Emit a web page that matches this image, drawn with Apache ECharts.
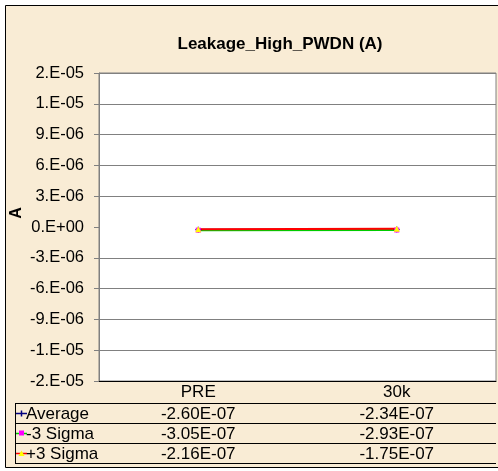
<!DOCTYPE html>
<html>
<head>
<meta charset="utf-8">
<script src="https://cdn.jsdelivr.net/npm/echarts@6/dist/echarts.min.js"></script>
<style>
  html, body { margin: 0; padding: 0; background: #fff; }
  #chart { width: 498px; height: 471px; }
</style>
</head>
<body>
<div id="chart"></div>
<script>
var categories = ["PRE", "30k"];
var seriesNames = ["Average", "-3 Sigma", "+3 Sigma"];
var average = [-2.60e-7, -2.34e-7];
var minus3Sigma = [-3.05e-7, -2.93e-7];
var plus3Sigma = [-2.16e-7, -1.75e-7];
var yTickLabels = ["-2.E-05", "-1.E-05", "-9.E-06", "-6.E-06", "-3.E-06", "0.E+00",
                   "3.E-06", "6.E-06", "9.E-06", "1.E-05", "2.E-05"];

var yMin = -1.5e-5, yMax = 1.5e-5, yStep = 3e-6;
var font = "Liberation Sans, Arial, sans-serif";

// grid box (pixels)
var gLeft = 99, gTop = 73, gWidth = 397, gHeight = 308;
var rowH = 20, headH = 22;

function sci(v) {
  // Excel style 0.00E+00
  var s = v.toExponential(2).toUpperCase();
  return s.replace(/E([+-])(\d)$/, "E$10$2");
}

var chartDom = document.getElementById("chart");
var myChart = echarts.init(chartDom);

var lineColors = ["#000080", "#00cc00", "#ff0000"];
var markColors = ["#000080", "#ff00ff", "#ffff00"];
var plusPath = "path://M0,4L8,4M4,0L4,8";

var rows = [average, minus3Sigma, plus3Sigma];
var graphics = [];

// chart area background + border
graphics.push({
  type: "rect", z: -100, silent: true,
  shape: { x: 5.5, y: 5.5, width: 500, height: 462 },
  style: { fill: "#f9ecd5", stroke: "#000", lineWidth: 1 }
});

// y axis title
graphics.push({
  type: "text", rotation: Math.PI / 2, x: 17, y: 213,
  style: { text: "A", font: "bold 16px " + font, fill: "#000",
           textAlign: "center", textVerticalAlign: "middle" }
});

// data table
var tTop = gTop + gHeight + headH;
var tLeft = 15, tRight = gLeft + gWidth;
for (var i = 0; i <= rows.length; i++) {
  graphics.push({
    type: "line", silent: true,
    shape: { x1: tLeft, y1: tTop + i * rowH + 0.5, x2: tRight, y2: tTop + i * rowH + 0.5 },
    style: { stroke: "#000", lineWidth: 1 }
  });
}
graphics.push({
  type: "line", silent: true,
  shape: { x1: tLeft + 0.5, y1: tTop, x2: tLeft + 0.5, y2: tTop + rows.length * rowH },
  style: { stroke: "#000", lineWidth: 1 }
});

var colW = gWidth / categories.length;
rows.forEach(function (vals, r) {
  var cy = tTop + r * rowH + rowH / 2 + 0.5;
  // legend key
  graphics.push({
    type: "line", silent: true,
    shape: { x1: tLeft + 1, y1: cy, x2: tLeft + 12, y2: cy },
    style: { stroke: lineColors[r], lineWidth: 1.5 }
  });
  if (r === 0) {
    graphics.push({
      type: "line", silent: true,
      shape: { x1: tLeft + 6.5, y1: cy - 3, x2: tLeft + 6.5, y2: cy + 3 },
      style: { stroke: markColors[r], lineWidth: 1.5 }
    });
  } else if (r === 1) {
    graphics.push({
      type: "rect", silent: true,
      shape: { x: tLeft + 4, y: cy - 3, width: 5, height: 5 },
      style: { fill: markColors[r] }
    });
  } else {
    graphics.push({
      type: "polygon", silent: true,
      shape: { points: [[tLeft + 6.5, cy - 3], [tLeft + 3.5, cy + 2.5], [tLeft + 9.5, cy + 2.5]] },
      style: { fill: markColors[r] }
    });
  }
  graphics.push({
    type: "text", x: tLeft + 11, y: cy + 0.5,
    style: { text: seriesNames[r], font: "17px " + font, fill: "#000",
             textVerticalAlign: "middle" }
  });
  vals.forEach(function (v, c) {
    graphics.push({
      type: "text", x: gLeft + colW * (c + 0.5), y: cy + 0.5,
      style: { text: sci(v), font: "17px " + font, fill: "#000",
               textAlign: "center", textVerticalAlign: "middle" }
    });
  });
});

var gridColors = yTickLabels.map(function (t, i) { return i === 5 ? "rgba(0,0,0,0)" : "#808080"; });

var option = {
  animation: false,
  title: {
    text: "Leakage_High_PWDN (A)",
    left: 275, top: 31, textAlign: "center",
    textStyle: { fontFamily: font, fontSize: 17, fontWeight: "bold", color: "#000" }
  },
  grid: {
    left: gLeft, top: gTop, width: gWidth, height: gHeight,
    show: true, backgroundColor: "#fff", borderColor: "#808080", borderWidth: 1
  },
  xAxis: {
    type: "category",
    data: categories,
    boundaryGap: true,
    axisLine: { onZero: false, lineStyle: { color: "#000", width: 1 } },
    axisTick: { length: headH + rows.length * rowH, lineStyle: { color: "#000" } },
    axisLabel: { margin: 3, fontFamily: font, fontSize: 17, color: "#000" }
  },
  yAxis: {
    type: "value",
    min: yMin, max: yMax, interval: yStep,
    axisLine: { show: true, lineStyle: { color: "#808080" } },
    axisTick: { show: true, length: 5, lineStyle: { color: "#808080" } },
    axisLabel: {
      margin: 15, fontFamily: font, fontSize: 16.5, color: "#000",
      formatter: function (v) {
        return yTickLabels[Math.round((v - yMin) / yStep)];
      }
    },
    splitLine: { show: true, lineStyle: { color: gridColors, width: 1 } }
  },
  series: [
    {
      name: seriesNames[0], type: "line", data: average,
      symbol: plusPath, symbolSize: 6,
      lineStyle: { color: lineColors[0], width: 2 },
      itemStyle: { color: markColors[0], borderColor: markColors[0] }
    },
    {
      name: seriesNames[1], type: "line", data: minus3Sigma,
      symbol: "rect", symbolSize: 5,
      lineStyle: { color: lineColors[1], width: 2 },
      itemStyle: { color: markColors[1], borderWidth: 0 }
    },
    {
      name: seriesNames[2], type: "line", data: plus3Sigma,
      symbol: "triangle", symbolSize: 6,
      lineStyle: { color: lineColors[2], width: 2 },
      itemStyle: { color: markColors[2], borderWidth: 0 }
    }
  ],
  graphic: graphics
};

option && myChart.setOption(option);
</script>
</body>
</html>
